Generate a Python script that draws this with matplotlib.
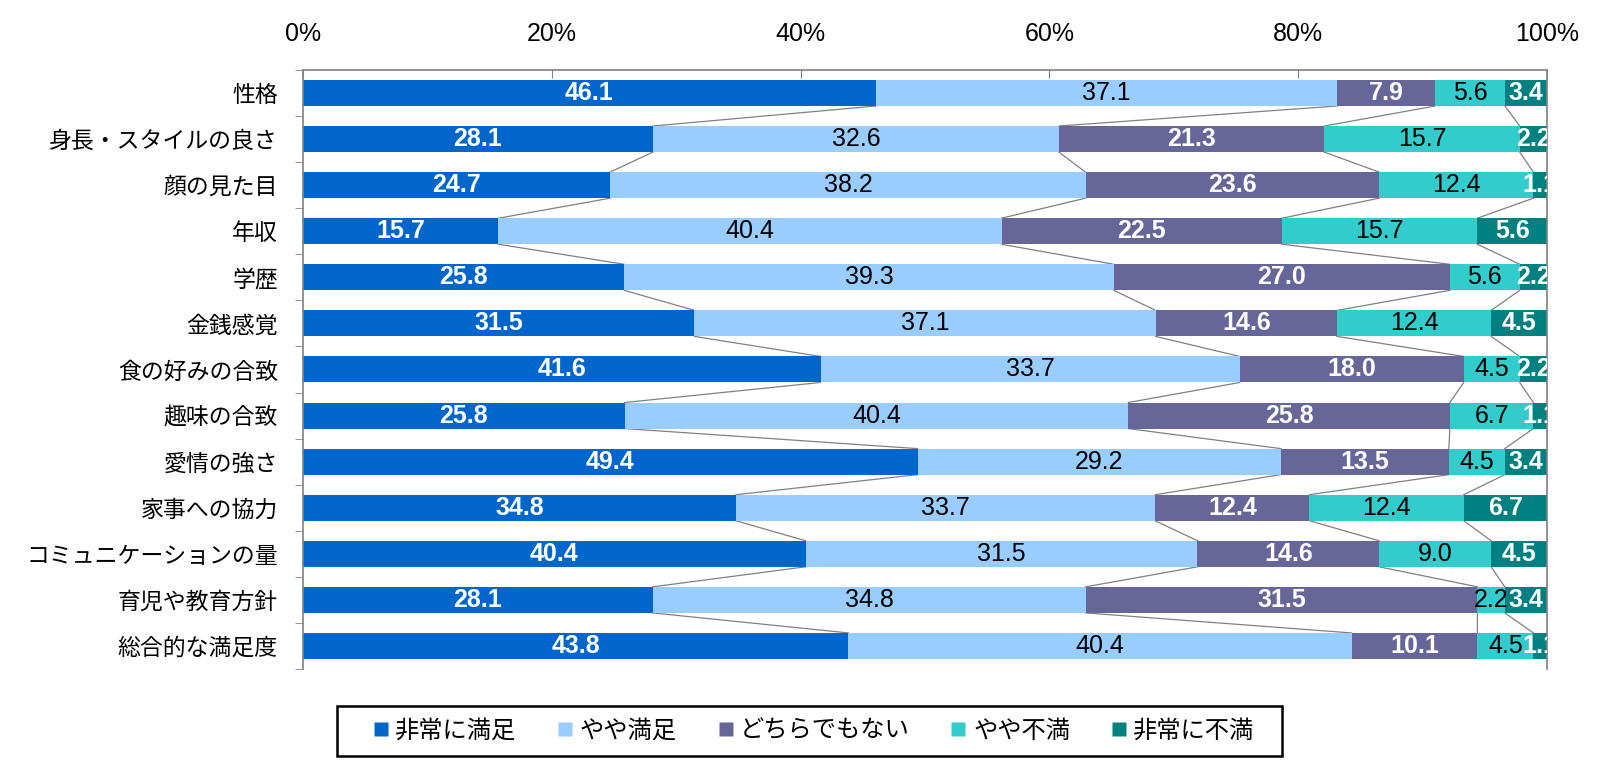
import numpy as np
import matplotlib
matplotlib.use("Agg")
import matplotlib.pyplot as plt
from matplotlib.lines import Line2D
from matplotlib.patches import Rectangle

plt.rcParams['font.family'] = ['Liberation Sans', 'Noto Sans CJK JP', 'DejaVu Sans']

categories = ['性格', '身長・スタイルの良さ', '顔の見た目', '年収', '学歴', '金銭感覚',
              '食の好みの合致', '趣味の合致', '愛情の強さ', '家事への協力',
              'コミュニケーションの量', '育児や教育方針', '総合的な満足度']
series_names = ['非常に満足', 'やや満足', 'どちらでもない', 'やや不満', '非常に不満']
very_satisfied = [46.1, 28.1, 24.7, 15.7, 25.8, 31.5, 41.6, 25.8, 49.4, 34.8, 40.4, 28.1, 43.8]
satisfied = [37.1, 32.6, 38.2, 40.4, 39.3, 37.1, 33.7, 40.4, 29.2, 33.7, 31.5, 34.8, 40.4]
neutral = [7.9, 21.3, 23.6, 22.5, 27.0, 14.6, 18.0, 25.8, 13.5, 12.4, 14.6, 31.5, 10.1]
dissatisfied = [5.6, 15.7, 12.4, 15.7, 5.6, 12.4, 4.5, 6.7, 4.5, 12.4, 9.0, 2.2, 4.5]
very_dissatisfied = [3.4, 2.2, 1.1, 5.6, 2.2, 4.5, 2.2, 1.1, 3.4, 6.7, 4.5, 3.4, 1.1]

colors = ['#0066CC', '#99CCFF', '#666699', '#33CCCC', '#008080']
label_colors = ['white', 'black', 'white', 'black', 'white']
label_weights = ['bold', 'normal', 'bold', 'normal', 'bold']

vals = np.array([very_satisfied, satisfied, neutral, dissatisfied, very_dissatisfied])
# 100%積み上げ（Excel同様に合計で正規化）
pct = vals / vals.sum(axis=0) * 100
cum = np.vstack([np.zeros(len(categories)), np.cumsum(pct, axis=0)])

fig = plt.figure(figsize=(16.2, 7.77), dpi=100)
ax = fig.add_axes([0.187, 0.139, 0.768, 0.771])

y = np.arange(len(categories))
h = 0.565
for k in range(5):
    ax.barh(y, pct[k], left=cum[k], height=h, color=colors[k], edgecolor='none', zorder=2)
    for i in range(len(categories)):
        t = ax.text(cum[k][i] + pct[k][i] / 2, y[i], f"{vals[k][i]:.1f}",
                    ha='center', va='center', fontsize=18, color=label_colors[k],
                    fontweight=label_weights[k], zorder=4)
        t.set_clip_on(True)

# 系列線
for i in range(len(categories) - 1):
    for k in range(1, 6):
        ax.plot([cum[k][i], cum[k][i + 1]], [y[i] + h / 2, y[i + 1] - h / 2],
                color='#808080', lw=0.9, zorder=1)

ax.set_xlim(0, 100)
ax.set_ylim(len(categories) - 0.5, -0.5)
ax.xaxis.tick_top()
ax.set_xticks(np.arange(0, 101, 20))
ax.set_xticklabels([f"{v}%" for v in range(0, 101, 20)], fontsize=18)
ax.tick_params(axis='x', direction='in', length=6, color='#808080', pad=17)
ax.set_yticks(y)
ax.set_yticklabels(categories, fontsize=16.5)
ax.tick_params(axis='y', which='major', length=0, pad=18)
ax.set_yticks(np.arange(-0.5, len(categories), 1), minor=True)
ax.tick_params(axis='y', which='minor', direction='out', length=6, color='#808080')

for s in ['top', 'left', 'right']:
    ax.spines[s].set_color('#808080')
    ax.spines[s].set_linewidth(1.2)
ax.spines['bottom'].set_visible(False)

# 凡例（枠は別に描く）
fig.patches.append(Rectangle((337 / 1620, 1 - 756 / 777), (1282 - 337) / 1620, 50 / 777,
                             transform=fig.transFigure, facecolor='white',
                             edgecolor='black', lw=1.8, zorder=0))
handles = [Line2D([0], [0], marker='s', color='none', markerfacecolor=c,
                  markeredgecolor='none', markersize=10) for c in colors]
leg = fig.legend(handles, series_names, loc='center', bbox_to_anchor=(0.5025, 0.059),
                 ncol=5, fontsize=17.5, frameon=False,
                 handlelength=0.6, handletextpad=0.3, columnspacing=1.7)

fig.savefig('out.png', dpi=100)
